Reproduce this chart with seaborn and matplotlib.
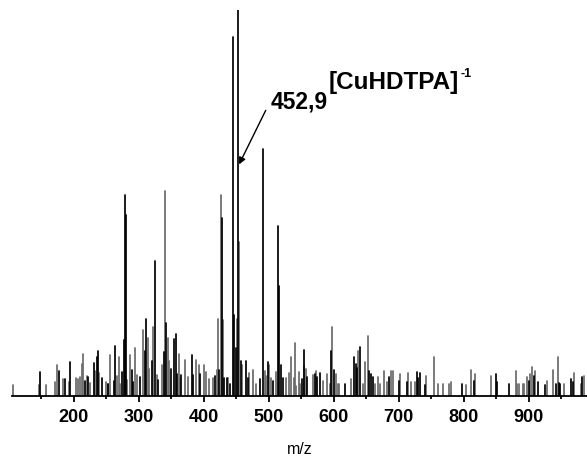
import numpy as np
import pandas as pd
import matplotlib
matplotlib.use("Agg")
import matplotlib.pyplot as plt
import seaborn as sns

# ─── Peak list (m/z, relative intensity %) ────────────────────────────────────
black_mz = [148, 177, 187, 194.5, 217, 222, 230.7, 236, 237.4, 243, 252, 262, 263,
            275, 276.7, 278.3, 280.4, 289, 292, 302, 309, 312, 320, 325.3, 330,
            338.6, 342, 349, 354, 357.5, 359, 365.5, 382.5, 384, 395, 417, 424,
            427.5, 432, 435.6, 440, 445.4, 447, 449.6, 452.9, 457, 465, 467.5, 486,
            491.4, 499, 507, 515, 516.5, 519.6, 522, 551, 553.8, 559, 571, 575, 579,
            596.3, 600.5, 618, 632, 634.6, 636, 640, 654, 657, 661, 685, 700, 713,
            727.7, 729.7, 733, 740.5, 798, 816, 850, 851.5, 870, 900, 908, 914.5,
            926, 943, 947.5, 949, 966, 968.5, 983]
black_int = [6.1, 6.4, 4.4, 8.9, 4.0, 4.8, 8.6, 10, 11.7, 4.7, 3.0, 4.0, 13,
             6.3, 14.4, 52, 47, 6.8, 3.5, 5.0, 11.7, 20, 9, 35, 4.2,
             11.5, 19, 7, 14.8, 16, 5.7, 5.5, 10.7, 5.5, 5.7, 5.3, 6.7,
             46, 4.6, 4.6, 3, 93, 21, 12.5, 100, 9, 9, 4.6, 4.4,
             64, 8.7, 4, 44, 28.5, 8, 4.6, 4.4, 11.8, 4.8, 5.7, 5, 6,
             11.7, 6.7, 3.2, 10, 8.2, 7.3, 12.7, 6.6, 5.6, 5, 5, 3.9, 3.6,
             6.3, 4.6, 6, 2.9, 3, 4, 5.7, 3.5, 3, 4, 5.2, 3.5,
             2.8, 3, 3.4, 3, 4.4, 3.6, 5]

grey_mz = [107, 146, 157, 171, 173.5, 184, 193, 204, 207, 210, 213, 215, 220.5, 225,
           233, 239, 250, 253, 256, 266.5, 269, 271.5, 282, 287, 294.6, 298, 306.4,
           314, 316, 322.7, 327.5, 335.6, 340.6, 345.7, 347, 362, 364, 372, 376,
           387.7, 393, 400.5, 403.5, 408, 415, 420, 422, 426.5, 430, 438, 451.6, 454,
           458.7, 470, 476, 481, 494, 496, 501, 503.5, 511, 527, 531, 535, 538.6, 540,
           542.7, 546, 548.5, 555, 557.5, 568.5, 573.5, 583, 590, 594, 598, 604,
           606.6, 609, 627, 638, 645, 648.5, 653, 663, 668.5, 671, 677, 682, 688,
           692, 702, 714.5, 719, 725, 742, 755, 760, 769, 778, 781, 803, 811.5,
           817.5, 843, 880, 883, 885, 891, 893, 898, 903, 906, 909.5, 928.7, 938,
           946, 954, 970.7, 980, 985]
grey_int = [2.9, 2.9, 2.9, 3.6, 8, 4.4, 3.5, 4.7, 4.4, 5, 8.4, 11, 5.3, 3.4,
            6.5, 6, 3.7, 3, 10.7, 5.3, 10, 3, 4.2, 10.5, 12.5, 5.5, 17,
            15, 7, 18, 5.5, 8, 53, 15, 9, 11, 4.7, 9.3, 4.8,
            9.3, 8, 8, 6.3, 4.3, 4.6, 6.7, 20, 52, 19.8, 4.6, 20, 40,
            8, 6, 6.8, 3.1, 6.5, 5.3, 8, 4.6, 6.3, 4.6, 6, 10, 4.6, 13.7,
            2.7, 6.3, 3, 7.8, 7, 5.5, 6.4, 3.9, 5.7, 3.2, 18, 5.8,
            3.2, 3.2, 4.3, 11.7, 3.2, 8.9, 15.5, 3.2, 5, 3, 6.4, 3.6, 6.4,
            6.4, 5.8, 6, 3.6, 3.6, 5.3, 10.2, 3, 3, 3, 3.6, 2.8, 6.7,
            5.6, 5.1, 6.4, 3, 3, 3, 3, 5, 5.6, 7.5, 6.5, 4, 6.7,
            10, 3, 6, 3, 5.3]

x_ticks = [200, 300, 400, 500, 600, 700, 800, 900]

# ─── Build long table: each peak is a unit with a baseline and a top point ────
rows = []
pid = 0
for trace, mzs, ints in [("grey", grey_mz, grey_int), ("black", black_mz, black_int)]:
    for mz, h in zip(mzs, ints):
        rows.append((pid, trace, mz, 0.0))
        rows.append((pid, trace, mz, h))
        pid += 1
df = pd.DataFrame(rows, columns=["peak", "trace", "mz", "intensity"])

sns.set_theme(style="ticks")
plt.rcParams["font.family"] = ["Liberation Sans", "DejaVu Sans"]
plt.rcParams["text.color"] = "black"
plt.rcParams["axes.labelcolor"] = "black"
plt.rcParams["xtick.color"] = "black"

fig = plt.figure(figsize=(5.87, 4.58), dpi=100)
ax = fig.add_axes([12 / 587, 62 / 458, 575 / 587, 386 / 458])

sns.lineplot(data=df, x="mz", y="intensity", units="peak", hue="trace",
             hue_order=["grey", "black"], palette={"grey": "#6a6a6a", "black": "#000000"},
             estimator=None, sort=False, linewidth=1.25, legend=False, ax=ax)

ax.set_xlim(105, 990)
ax.set_ylim(0, 100)
sns.despine(ax=ax, left=True, top=True, right=True)
ax.spines["bottom"].set_linewidth(1.3)
ax.spines["bottom"].set_color("black")
ax.set_yticks([])
ax.set_ylabel("")
ax.set_xticks(x_ticks)
ax.set_xticks(np.arange(150, 990, 100), minor=True)
ax.tick_params(axis="x", which="major", direction="out", length=4, width=1.3,
               color="black", labelcolor="black", pad=5, labelsize=13)
ax.tick_params(axis="x", which="minor", direction="out", length=2.5, width=1.3,
               color="black")
for lab in ax.get_xticklabels():
    lab.set_fontweight("bold")
ax.set_xlabel("m/z", fontsize=11.5, labelpad=12, color="black")

# annotation of the base peak
ax.annotate("", xy=(454.5, 60), xytext=(495.5, 74),
            arrowprops=dict(arrowstyle="-|>", color="black", lw=1.0,
                            mutation_scale=10, shrinkA=0, shrinkB=0))
ax.text(503, 74.6, "452,9", fontsize=16.5, fontweight="bold", ha="left",
        va="baseline", color="black")
ion = ax.text(592, 79.5, "[CuHDTPA]", fontsize=17.5, fontweight="bold", ha="left",
              va="baseline", color="black")
ax.annotate("-1", xy=(1, 1), xycoords=ion, xytext=(1, 2), textcoords="offset points",
            fontsize=9, fontweight="bold", ha="left", va="top", color="black")

fig.savefig("out.png", dpi=100)
